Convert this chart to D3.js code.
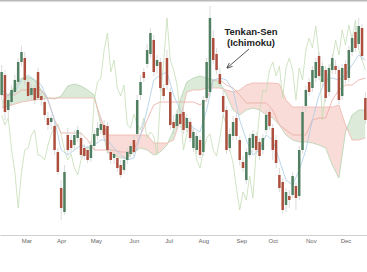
<!DOCTYPE html>
<html>
<head>
<meta charset="utf-8">
<script src="https://cdn.jsdelivr.net/npm/d3@7"></script>
<style>
body{margin:0;background:#fff;}
svg{display:block;}
</style>
</head>
<body>
<div id="chart"></div>
<script>
// one candle every two trading days (day index = 2*i)
var opens = [102.5,112.5,95,99,104,109,119,121,109,102.5,
  106,114,102,99,91,89,87,74,56,44,
  82.5,80,77.5,81,81,76,75,71,77,82,
  85,87.5,87,74,71,71,67.5,65,70,73,
  80,83,102.5,114,118,123,130,117,119,106,
  121,104,89,87,93,94,86,89,76,75,
  80,74,101,104,131,123,113,102,95,76,
  82,91,80,69,60,72.5,76,82,79,75,
  85,94,86,80,62.5,59,47.5,52,52.5,57,
  52,75,97,109,106,111,122,109,115,104,
  115,117,115,102,118,111,124,134,128,136,101];
var highs = [117.5,115,102,107.5,112.5,121,127,124,111,108,
  107.5,116,105,101,94,92.5,89,76,60,67.5,
  86,82.5,85,87,84,78,77,80,85,89,
  91,90,89,76,75,73,70,72,76,79,
  82,102.5,112.5,116,128,136,132.5,122.5,121,108,
  125,106,92.5,95,96,97,93,91,86,84,
  82,102,121,147,135,126,116,105,97,86,
  92,94,82,72,76,83,85,84,81,83,
  95,96,88,82.5,66,61,56,55,64,59,
  77,97,107,111,117,121,124,119,117,118,
  123,120,117,118,120,127,133,137,141,138,104];
var lows = [100,90,91,97,102,107.5,117,107.5,100,100,
  98,100,97,90,85,85,72.5,62.5,40,42.5,
  72.5,74,75,79,71,70,68.5,69,75,80,
  83,81,73,68,68,64,61,63,68,71,
  72,81,100,109,116,121,112,113,104,100,
  105,85,83,85,86,83,84,79,74,73,
  71,72,99,102,118,113,106,91,73,74,
  80,80,67.5,64,58,71,74,73,70,73,
  83,85,70,66,54,43,44,46,51,45,
  50,73,94,102,104,109,110,107,99,102,
  113,113,98,100,108,109,122,124,126,120,88];
var closes = [114,94,100,105,110,119,124,110,102,106,
  100,101,100,92.5,87.5,91,75,64,46,64,
  75,76,82.5,85,72.5,72,70,77.5,83,86,
  88,82.5,75,70,73,66,62.5,70,74,77,
  74,100,109,111,125,133.5,114,120,106,102,
  107.5,87.5,86,93,88,85,91,81,84,82,
  72.5,100,119,141,120,115,108,94,75,83,
  89,82,70,66,74,81,83,75,72,81,
  92.5,87,75,68.5,56,45,54,50,62,51,
  75,94,105,104,115,119,112,117,101,116,
  121,115,100,116,110,125,131,126,137,122,90];
// lagging span past the last visible close (closes beyond the right edge)
var laggingTail = [105,115,120,130,122.5,135,127.5,137.5,130,140,125,120,115];
var lagShift = 13;

// ichimoku lines sampled every four trading days
var senkouA = [99,102.5,107,111,111.5,110,105,101,100.5,102,107,108,107,105,102.5,87.5,
  74,72.5,71,71,74,76,75,72.5,74,77.5,85,100,109,111,112,111,110,109,102.5,95,
  92.5,95,96,95,92.5,91,87.5,82.5,80,79,79,78.5,77.5,76,67.5,61,84,92.5,95,95];
var senkouB = [96,97,98,99,99.5,100,100.5,101,101,101,101,101,101,101,101,91,
  82.5,82.5,82.5,82.5,82.5,82.5,82.5,78.5,78.5,78.5,80,90,104,105,105,106,106,106,105,104,
  105,107.5,108.5,108.5,108.5,108.5,108,100,96.5,96.5,96.5,96.5,96.5,96.5,96.5,97.5,87.5,80,80,81];
var tenkan = [105,102.5,104,110,112.5,110,107.5,100,90,75,72.5,75,77.5,76,77.5,80,
  80,76,72.5,70,71,82.5,95,110,112.5,114,102.5,95,90,86,84,95,110,111,110,105,
  90,80,72.5,75,82.5,80,70,60,57.5,65,75,90,102.5,110,111,110,112.5,117.5,122.5,120];
var kijun = [102.5,102.5,102.5,105,105,105,105,100,90,83.5,83.5,83.5,83.5,80,75,75,
  75,75,74,74,75,82.5,90,97.5,99,99,99,99,99,99,97.5,100,110,110,107.5,106,
  102.5,98.5,98.5,98.5,98.5,95,87.5,85,82.5,82.5,82.5,90,91,91,100,105,107.5,107.5,110,111];

var monthNames = ["Mar","Apr","May","Jun","Jul","Aug","Sep","Oct","Nov","Dec"];
var monthDays = [15,36,57,80,101,122,145,164,187,208];

var W = 367, H = 272, plotBottom = 235;

var svg = d3.select("#chart").append("svg").attr("width", W).attr("height", H);

var x = d3.scaleLinear().domain([-1, 221]).range([0, W]);
var y = d3.scaleLinear().domain([32.5, 150]).range([plotBottom, 0]);

var bars = closes.map(function(c, i){
  return {t: 2*i, o: opens[i], h: highs[i], l: lows[i], c: c};
});
var cloud = senkouA.map(function(a, k){
  return {t: 4*k, a: a, b: senkouB[k], tk: tenkan[k], kj: kijun[k]};
});
var allCloses = closes.concat(laggingTail);
var lagging = allCloses.slice(lagShift).map(function(c, i){ return {t: 2*i, v: c}; });

svg.append("clipPath").attr("id", "plot")
  .append("rect").attr("x", 0).attr("y", 0).attr("width", W).attr("height", plotBottom);

var g = svg.append("g").attr("clip-path", "url(#plot)");

// cloud: green where span A above span B, pink otherwise
var band = d3.area().x(d=>x(d.t)).y0(d=>y(d.a)).y1(d=>y(d.b));
var defs = svg.append("defs");
defs.append("clipPath").attr("id", "aboveB").append("path")
  .attr("d", d3.area().x(d=>x(d.t)).y0(0).y1(d=>y(d.b))(cloud));
defs.append("clipPath").attr("id", "belowB").append("path")
  .attr("d", d3.area().x(d=>x(d.t)).y0(plotBottom).y1(d=>y(d.b))(cloud));

g.append("path").datum(cloud).attr("d", band).attr("clip-path", "url(#aboveB)")
  .attr("fill", "#dcebd9");
g.append("path").datum(cloud).attr("d", band).attr("clip-path", "url(#belowB)")
  .attr("fill", "#f9dcd8");

var lineA = d3.line().x(d=>x(d.t)).y(d=>y(d.a));
var lineB = d3.line().x(d=>x(d.t)).y(d=>y(d.b));
g.append("path").datum(cloud).attr("d", lineA).attr("fill", "none")
  .attr("stroke", "#b3d3ad").attr("stroke-width", 0.8);
g.append("path").datum(cloud).attr("d", lineB).attr("fill", "none")
  .attr("stroke", "#efb3ab").attr("stroke-width", 0.8);

// lagging span
g.append("path").datum(lagging)
  .attr("d", d3.line().x(d=>x(d.t)).y(d=>y(d.v)))
  .attr("fill", "none").attr("stroke", "#c5ddb6").attr("stroke-width", 0.8);

// kijun and tenkan
g.append("path").datum(cloud)
  .attr("d", d3.line().x(d=>x(d.t)).y(d=>y(d.kj)))
  .attr("fill", "none").attr("stroke", "#eaa9a2").attr("stroke-width", 0.8);
g.append("path").datum(cloud)
  .attr("d", d3.line().x(d=>x(d.t)).y(d=>y(d.tk)))
  .attr("fill", "none").attr("stroke", "#a9cbe6").attr("stroke-width", 0.8);

// candles
var candle = g.selectAll(".bar").data(bars).enter().append("g");
candle.append("line")
  .attr("x1", d=>x(d.t)).attr("x2", d=>x(d.t))
  .attr("y1", d=>y(d.h)).attr("y2", d=>y(d.l))
  .attr("stroke", "#d2d2d2").attr("stroke-width", 0.8);
candle.append("rect")
  .attr("x", d=>x(d.t) - 1.25).attr("width", 2.5)
  .attr("y", d=>y(Math.max(d.o, d.c)))
  .attr("height", d=>Math.max(1, Math.abs(y(d.o) - y(d.c))))
  .attr("fill", d=>d.c >= d.o ? "#4f7f60" : "#ad4f3d");

// frame line at top
svg.append("rect").attr("x", 0).attr("y", 0).attr("width", W).attr("height", 1.5).attr("fill", "#b9b9b9");

// month axis
var axis = d3.axisBottom(x).tickValues(monthDays)
  .tickFormat((d, i) => monthNames[i]).tickSize(0).tickPadding(4);
var ax = svg.append("g").attr("transform", "translate(0," + plotBottom + ")").call(axis);
ax.select(".domain").attr("stroke", "#cfcfcf");
ax.selectAll("text").attr("fill", "#666").style("font-size", "6px")
  .style("font-family", "Arial, 'Liberation Sans', sans-serif");

// annotation
var note = svg.append("g").style("font-family", "Arial, 'Liberation Sans', sans-serif")
  .style("font-weight", "bold").style("font-size", "9.5px").attr("fill", "#222");
note.append("text").attr("x", 251).attr("y", 35).attr("text-anchor", "middle").text("Tenkan-Sen");
note.append("text").attr("x", 251).attr("y", 45.5).attr("text-anchor", "middle").text("(Ichimoku)");

defs.append("marker").attr("id", "arr").attr("viewBox", "0 0 10 10")
  .attr("refX", 9).attr("refY", 5).attr("markerWidth", 6).attr("markerHeight", 6)
  .attr("orient", "auto").append("path").attr("d", "M0,1L10,5L0,9").attr("fill", "none")
  .attr("stroke", "#555").attr("stroke-width", 1.5);
svg.append("line").attr("x1", 249).attr("y1", 49).attr("x2", 227).attr("y2", 68)
  .attr("stroke", "#555").attr("stroke-width", 1).attr("marker-end", "url(#arr)");
</script>
</body>
</html>
